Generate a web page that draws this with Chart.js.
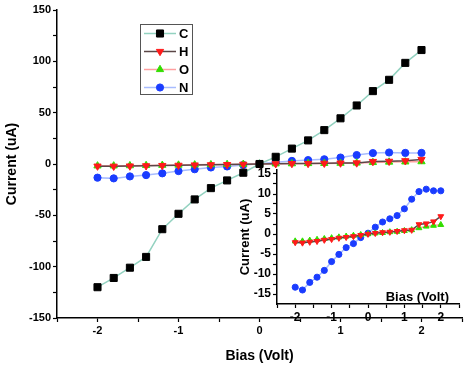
<!DOCTYPE html>
<html>
<head>
<meta charset="utf-8">
<script src="https://cdn.jsdelivr.net/npm/chart.js@4.4.0/dist/chart.umd.min.js"></script>
<style>
  html, body { margin: 0; padding: 0; background: #fff; overflow: hidden; }
  #wrap { position: relative; width: 464px; height: 365px; overflow: hidden; }
  #mainChart { position: absolute; left: 0; top: 0; }
  #insetChart { position: absolute; left: 230px; top: 160px; }
</style>
</head>
<body>
<div id="wrap">
  <canvas id="mainChart" width="468" height="365"></canvas>
  <canvas id="insetChart" width="234" height="165"></canvas>
</div>
<script>
// bias points (V) and currents (uA)
const bias = [-2, -1.8, -1.6, -1.4, -1.2, -1, -0.8, -0.6, -0.4, -0.2, 0, 0.2, 0.4, 0.6, 0.8, 1, 1.2, 1.4, 1.6, 1.8, 2];
const currentC = [-120, -111, -101, -90.5, -63.5, -48.5, -34.5, -23.5, -16, -8.5, 0, 7, 15, 23, 33, 44.5, 57, 71, 82, 98.5, 111];
const currentH = [-2.1, -2.2, -2.0, -1.8, -1.5, -1.3, -1.0, -0.8, -0.6, -0.3, 0, 0.2, 0.4, 0.5, 0.7, 0.9, 1.0, 2.4, 2.6, 3.1, 4.4];
const currentO = [-1.8, -1.8, -1.6, -1.4, -1.2, -1.0, -0.8, -0.6, -0.4, -0.2, 0, 0.2, 0.3, 0.5, 0.6, 0.8, 1.0, 1.5, 1.9, 2.1, 2.3];
const currentN = [-13.3, -14.0, -12.1, -10.8, -9.1, -6.9, -5.1, -3.4, -2.4, -0.9, 0.2, 1.7, 3.0, 3.8, 4.6, 6.3, 8.7, 10.6, 11.2, 10.8, 10.8];

const mainXTicks = [-2.5, -2, -1.5, -1, -0.5, 0, 0.5, 1, 1.5, 2, 2.5];
const mainYTicks = [-150, -125, -100, -75, -50, -25, 0, 25, 50, 75, 100, 125, 150];
const insetXTicks = [-2.5, -2, -1.5, -1, -0.5, 0, 0.5, 1, 1.5, 2, 2.5];
const insetYTicks = [-15, -12.5, -10, -7.5, -5, -2.5, 0, 2.5, 5, 7.5, 10, 12.5, 15];

const xTitle = 'Bias (Volt)';
const yTitle = 'Current (uA)';

const FONT = "'Liberation Sans', Arial, sans-serif";

const styles = {
  C: { line: '#93d2c0', fill: '#000000', point: 'rect', rot: 0, r: 5 },
  H: { line: '#5b4646', fill: '#ff1a1a', point: 'triangle', rot: 180, r: 4.2 },
  O: { line: '#ffa0a0', fill: '#33dd00', point: 'triangle', rot: 0, r: 4.2 },
  N: { line: '#a8bcff', fill: '#1a3cff', point: 'circle', rot: 0, r: 3.6 }
};

function points(ys) {
  return bias.map((x, i) => ({ x: x, y: ys[i] }));
}

function makeSet(label, ys, k) {
  const s = styles[label];
  return {
    label: label,
    data: points(ys),
    borderColor: s.line,
    backgroundColor: s.fill,
    pointBackgroundColor: s.fill,
    pointBorderColor: s.fill,
    pointStyle: s.point,
    rotation: s.rot,
    pointRadius: s.r * k,
    pointBorderWidth: 1,
    borderWidth: 1.5,
    tension: 0
  };
}

function axis(min, max, tickList, every, fontSize, size, isX) {
  return {
    type: 'linear',
    min: min,
    max: max,
    afterBuildTicks: s => { s.ticks = tickList.map(v => ({ value: v })); },
    afterFit: s => {
      if (isX) {
        s.height = size;
        s.paddingLeft = 0;
        s.paddingRight = 0;
      } else {
        s.width = size;
      }
    },
    grid: { drawOnChartArea: false, tickLength: 4, tickColor: '#000', tickWidth: 1.2 },
    border: { color: '#000', width: 1.5 },
    ticks: {
      autoSkip: false,
      maxRotation: 0,
      padding: 2,
      color: '#000',
      font: { family: FONT, size: fontSize, weight: 'bold' },
      callback: v => (Math.abs(v % every) < 1e-9 ? String(v) : '')
    }
  };
}

const legendBox = {
  id: 'legendBox',
  afterDraw(chart) {
    const ctx = chart.ctx;
    ctx.save();
    ctx.strokeStyle = '#555';
    ctx.lineWidth = 1;
    ctx.strokeRect(140.5, 24.5, 52, 70);
    chart.data.datasets.forEach((ds, i) => {
      const y = 33.5 + i * 18;
      ctx.strokeStyle = ds.borderColor;
      ctx.lineWidth = 1.5;
      ctx.beginPath();
      ctx.moveTo(144, y);
      ctx.lineTo(176, y);
      ctx.stroke();
      ctx.fillStyle = ds.backgroundColor;
      ctx.strokeStyle = ds.pointBorderColor;
      ctx.lineWidth = 1;
      Chart.helpers.drawPoint(ctx, { pointStyle: ds.pointStyle, rotation: ds.rotation, radius: ds.pointRadius, borderWidth: 1 }, 160, y);
      ctx.fillStyle = '#000';
      ctx.font = 'bold 13px ' + FONT;
      ctx.textBaseline = 'middle';
      ctx.textAlign = 'left';
      ctx.fillText(ds.label, 179, y + 1);
    });
    ctx.restore();
  }
};

const insetBiasTitle = {
  id: 'insetBiasTitle',
  afterDraw(chart) {
    const ctx = chart.ctx;
    ctx.save();
    ctx.fillStyle = '#000';
    ctx.font = 'bold 13px ' + FONT;
    ctx.textAlign = 'right';
    ctx.textBaseline = 'middle';
    ctx.fillText(xTitle, 219, 137);
    ctx.restore();
  }
};

// main chart (canvas is a few px wider than the page; chart.js keeps ~6px on the right)
const mainX = axis(-2.5, 2.5, mainXTicks, 1, 11, 47, true);
mainX.title = { display: true, text: xTitle, color: '#000', font: { family: FONT, size: 14, weight: 'bold' }, padding: { top: 4, bottom: 0 } };
const mainY = axis(-150, 150, mainYTicks, 50, 11, 57, false);
mainY.title = { display: true, text: yTitle, color: '#000', font: { family: FONT, size: 14, weight: 'bold' }, padding: { top: 4, bottom: 2 } };

new Chart(document.getElementById('mainChart').getContext('2d'), {
  type: 'line',
  data: {
    datasets: [
      makeSet('C', currentC, 1),
      makeSet('H', currentH, 1),
      makeSet('O', currentO, 1),
      makeSet('N', currentN, 1)
    ]
  },
  options: {
    responsive: false,
    animation: false,
    layout: { padding: { top: 10, right: 0, left: 0, bottom: 0 } },
    plugins: { legend: { display: false }, tooltip: { enabled: false } },
    scales: { x: mainX, y: mainY }
  },
  plugins: [legendBox]
});

// inset: H, O, N zoomed in
const insetX = axis(-2.5, 2.5, insetXTicks, 1, 12, 21, true);
const insetY = axis(-17.5, 16, insetYTicks, 5, 12, 47, false);
insetY.title = { display: true, text: yTitle, color: '#000', font: { family: FONT, size: 13, weight: 'bold' }, padding: { top: 8, bottom: 2 } };

new Chart(document.getElementById('insetChart').getContext('2d'), {
  type: 'line',
  data: {
    datasets: [
      makeSet('H', currentH, 0.8),
      makeSet('O', currentO, 0.8),
      makeSet('N', currentN, 0.85)
    ]
  },
  options: {
    responsive: false,
    animation: false,
    layout: { padding: { top: 10, right: 5, left: 0, bottom: 0 } },
    plugins: { legend: { display: false }, tooltip: { enabled: false } },
    scales: { x: insetX, y: insetY }
  },
  plugins: [insetBiasTitle]
});
</script>
</body>
</html>
